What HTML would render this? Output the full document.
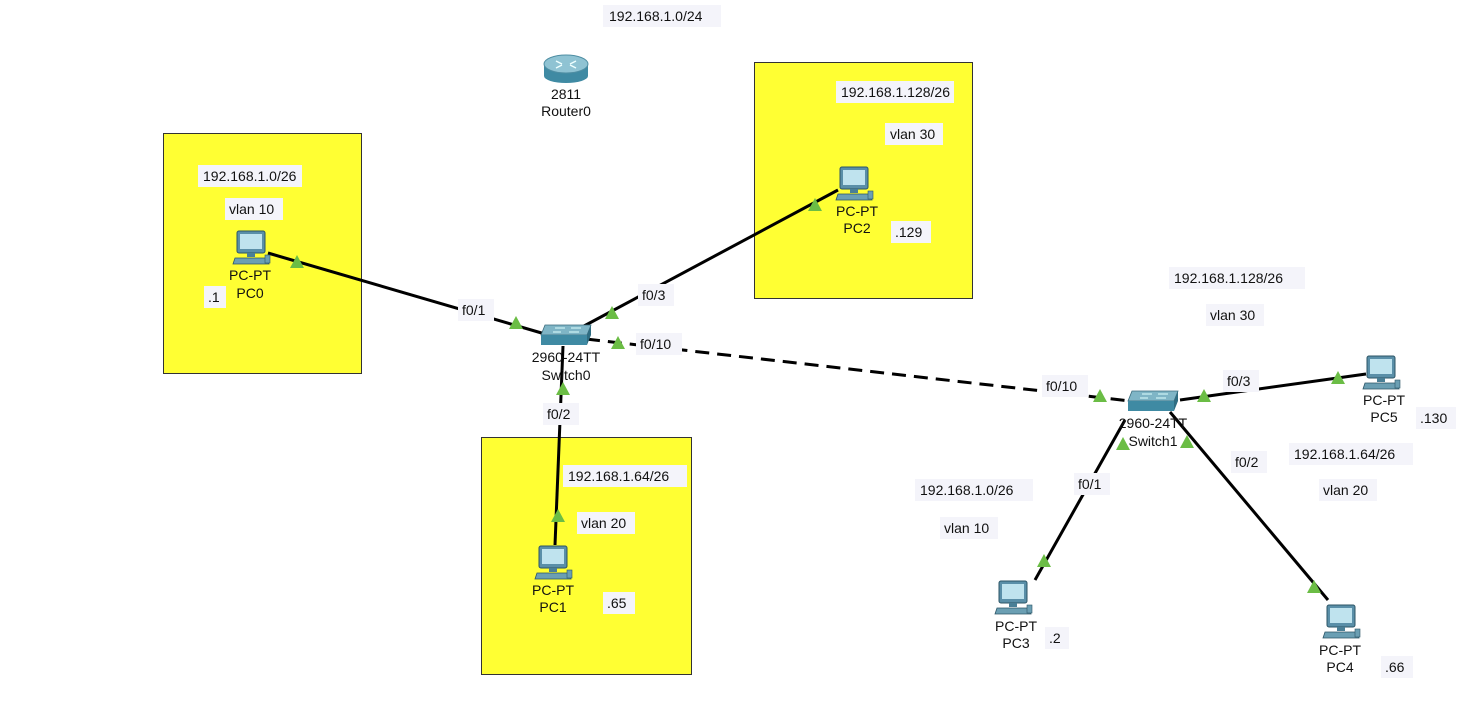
<!DOCTYPE html>
<html><head><style>
body{margin:0;background:#fff;}
svg text{font-family:"Liberation Sans",Arial,sans-serif;font-size:14px;fill:#111;}
</style></head><body>
<svg width="1473" height="712" viewBox="0 0 1473 712" xmlns="http://www.w3.org/2000/svg">
<defs>
<g id="pc">
 <rect x="0" y="0" width="28" height="22" rx="2" fill="#5a8fa8" stroke="#2c5566"/>
 <rect x="3" y="3" width="22" height="15" fill="#bfe3ee"/>
 <rect x="10" y="22" width="8" height="4" fill="#4a7f96"/>
 <path d="M-2 27 L30 27 L32 33 L-4 33 Z" fill="#6b9fb3" stroke="#2c5566" stroke-width="0.8"/>
 <rect x="28" y="24" width="5" height="8" fill="#6b9fb3" stroke="#2c5566" stroke-width="0.6"/>
</g>
<g id="sw">
 <path d="M4 0 L50 0 L46 10 L0 10 Z" fill="#7fb5c6" stroke="#3b6b7c" stroke-width="0.8"/>
 <rect x="0" y="10" width="46" height="10" fill="#3f8aa3"/>
 <path d="M46 10 L50 0 L50 10 L46 20 Z" fill="#2f6d82"/>
 <path d="M14 3 L24 3 M28 7 L38 7 M12 7 L20 7 M30 3 L40 3" stroke="#dff" stroke-width="1"/>
</g>
<path id="tri" d="M0 -7 L7 6 L-7 6 Z" fill="#6bbd45"/>
</defs>

<rect x="163.5" y="133.5" width="198" height="240" fill="#ffff33" stroke="#333"/>
<rect x="754.5" y="62.5" width="218" height="236" fill="#ffff33" stroke="#333"/>
<rect x="481.5" y="437.5" width="210" height="237" fill="#ffff33" stroke="#333"/>

<g stroke="#000" stroke-width="3" fill="none">
<line x1="268" y1="253" x2="545" y2="334"/>
<line x1="584" y1="326" x2="838" y2="190"/>
<line x1="563" y1="346" x2="555" y2="545"/>
<line x1="586" y1="339" x2="1130" y2="401" stroke-dasharray="14,8"/>
<line x1="1125" y1="420" x2="1035" y2="580"/>
<line x1="1170" y1="412" x2="1328" y2="600"/>
<line x1="1180" y1="400" x2="1366" y2="374"/>
</g>

<g>
<use href="#tri" x="297" y="262"/><use href="#tri" x="516" y="323"/>
<use href="#tri" x="612" y="313"/><use href="#tri" x="815" y="205"/>
<use href="#tri" x="618" y="343"/><use href="#tri" x="1100" y="396"/>
<use href="#tri" x="563" y="389"/><use href="#tri" x="558" y="516"/>
<use href="#tri" x="1123" y="444"/><use href="#tri" x="1044" y="561"/>
<use href="#tri" x="1187" y="442"/><use href="#tri" x="1314" y="587"/>
<use href="#tri" x="1204" y="396"/><use href="#tri" x="1338" y="378"/>
</g>

<!-- Router -->
<ellipse cx="566" cy="76" rx="22" ry="7" fill="#3f8aa3"/>
<rect x="544" y="64" width="44" height="12" fill="#3f8aa3"/>
<ellipse cx="566" cy="64" rx="22" ry="9" fill="#8fc3d3" stroke="#4f8ea3"/>
<path d="M556 61 L562 64 M576 61 L570 64 M556 68 L562 65 M576 68 L570 65" stroke="#eff" stroke-width="1.5"/>
<text x="566" y="99" text-anchor="middle">2811</text>
<text x="566" y="116" text-anchor="middle">Router0</text>

<use href="#sw" x="541" y="325"/>
<use href="#sw" x="1128" y="391"/>

<use href="#pc" x="237" y="231"/>
<use href="#pc" x="840" y="167"/>
<use href="#pc" x="539" y="546"/>
<use href="#pc" x="999" y="581"/>
<use href="#pc" x="1327" y="605"/>
<use href="#pc" x="1367" y="356"/>

<g text-anchor="middle">
<text x="250" y="280">PC-PT</text><text x="250" y="298">PC0</text>
<text x="857" y="216">PC-PT</text><text x="857" y="233">PC2</text>
<text x="553" y="595">PC-PT</text><text x="553" y="612">PC1</text>
<text x="1016" y="631">PC-PT</text><text x="1016" y="648">PC3</text>
<text x="1340" y="655">PC-PT</text><text x="1340" y="672">PC4</text>
<text x="1384" y="405">PC-PT</text><text x="1384" y="422">PC5</text>
<text x="566" y="362">2960-24TT</text><text x="566" y="380">Switch0</text>
<text x="1153" y="428">2960-24TT</text><text x="1153" y="446">Switch1</text>
</g>

<g>
<g fill="#f4f4fa">
<rect x="603" y="5" width="118" height="22"/>
<rect x="198" y="165" width="104" height="22"/><rect x="225" y="198" width="58" height="22"/>
<rect x="204" y="286" width="22" height="22"/>
<rect x="836" y="81" width="118" height="22"/><rect x="885" y="123" width="58" height="22"/>
<rect x="891" y="221" width="40" height="22"/>
<rect x="563" y="465" width="124" height="22"/><rect x="577" y="512" width="58" height="22"/>
<rect x="603" y="592" width="32" height="22"/>
<rect x="1169" y="267" width="136" height="22"/><rect x="1206" y="304" width="58" height="22"/>
<rect x="1416" y="407" width="40" height="22"/>
<rect x="1289" y="443" width="124" height="22"/><rect x="1319" y="479" width="58" height="22"/>
<rect x="915" y="479" width="118" height="22"/><rect x="940" y="517" width="58" height="22"/>
<rect x="1045" y="627" width="24" height="22"/><rect x="1381" y="656" width="32" height="22"/>
<rect x="458" y="299" width="36" height="22"/><rect x="638" y="284" width="36" height="22"/>
<rect x="636" y="333" width="46" height="22"/><rect x="543" y="403" width="36" height="22"/>
<rect x="1042" y="375" width="46" height="22"/><rect x="1223" y="370" width="36" height="22"/>
<rect x="1074" y="473" width="36" height="22"/><rect x="1231" y="451" width="36" height="22"/>
</g>
<text x="609" y="21">192.168.1.0/24</text>
<text x="203" y="181">192.168.1.0/26</text><text x="229" y="214">vlan 10</text>
<text x="208" y="302">.1</text>
<text x="841" y="97">192.168.1.128/26</text><text x="890" y="139">vlan 30</text>
<text x="895" y="237">.129</text>
<text x="568" y="481">192.168.1.64/26</text><text x="581" y="528">vlan 20</text>
<text x="607" y="608">.65</text>
<text x="1174" y="283">192.168.1.128/26</text><text x="1210" y="320">vlan 30</text>
<text x="1420" y="423">.130</text>
<text x="1294" y="459">192.168.1.64/26</text><text x="1323" y="495">vlan 20</text>
<text x="920" y="495">192.168.1.0/26</text><text x="944" y="533">vlan 10</text>
<text x="1049" y="643">.2</text><text x="1385" y="672">.66</text>
<text x="462" y="315">f0/1</text><text x="642" y="300">f0/3</text>
<text x="640" y="349">f0/10</text><text x="547" y="419">f0/2</text>
<text x="1046" y="391">f0/10</text><text x="1227" y="386">f0/3</text>
<text x="1078" y="489">f0/1</text><text x="1235" y="467">f0/2</text>
</g>
</svg>
</body></html>
